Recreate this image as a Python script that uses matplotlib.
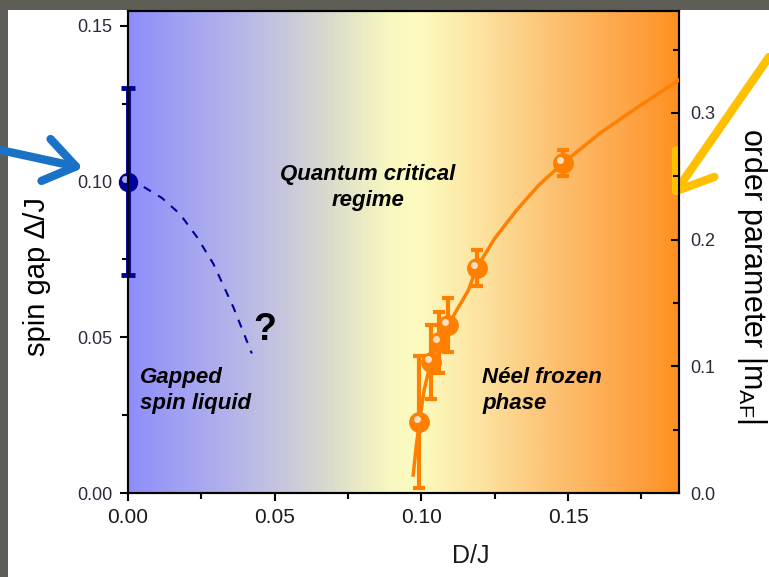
import matplotlib
matplotlib.use("Agg")
import matplotlib.pyplot as plt
import numpy as np
from matplotlib import font_manager
from matplotlib.colors import LinearSegmentedColormap
from matplotlib.patches import Rectangle
from matplotlib.transforms import ScaledTranslation

plt.rcParams['font.family'] = ['Liberation Sans', 'DejaVu Sans']

# spin gap (left axis)
gap_x = [0.0]
gap_y = [0.10]
gap_err = [0.03]

# dashed guide of the gap closing
guide_x = [0.0, 0.0052, 0.0115, 0.0177, 0.0235, 0.0291, 0.0359, 0.0422]
guide_y = [0.100, 0.0984, 0.0948, 0.0896, 0.0822, 0.0736, 0.0597, 0.0448]

# order parameter (right axis)
m_x = [0.0993, 0.1032, 0.1060, 0.1091, 0.1188, 0.1483]
m_y = [0.056, 0.1036, 0.119, 0.1326, 0.1776, 0.2605]
m_err = [0.052, 0.029, 0.024, 0.021, 0.014, 0.010]

# fit line of the order parameter
fit_x = [0.0972, 0.0982, 0.0993, 0.1010, 0.1032, 0.1060, 0.1091, 0.1160,
         0.1188, 0.1250, 0.1325, 0.1400, 0.1483, 0.1609, 0.1740, 0.1878]
fit_y = [0.0142, 0.036, 0.056, 0.082, 0.1034, 0.119, 0.1326, 0.160,
         0.1776, 0.201, 0.2234, 0.243, 0.2605, 0.2841, 0.305, 0.326]

# background colour stops (fraction of the x range)
bg_pos = [0.0, 0.13, 0.27, 0.37, 0.475, 0.53, 0.64, 0.78, 0.93, 1.0]
bg_col = ['#8e8efb', '#a8a8f0', '#c4c4e0', '#dcdccc', '#f8f8c0', '#fdfbbf',
          '#fce3a0', '#fcc070', '#fea040', '#ff9020']

navy = '#00009c'
orange = '#ff8000'

# axis titles are in a narrow face in the original
names = {f.name for f in font_manager.fontManager.ttflist}
if 'Liberation Sans Narrow' in names:
    narrow = ['Liberation Sans Narrow', 'DejaVu Sans']
    ylab_size, rlab_size, xlab_size, xtick_size = 26, 26, 21, 16.5
else:
    narrow = ['Liberation Sans', 'DejaVu Sans']
    ylab_size, rlab_size, xlab_size, xtick_size = 21, 22, 18, 15

fig = plt.figure(figsize=(7.69, 5.77), dpi=100, facecolor='#5e5e56')
panel = Rectangle((8 / 769, 0), 1, 1 - 10 / 577, transform=fig.transFigure,
                  facecolor='white', edgecolor='none', zorder=-10)
fig.patches.append(panel)

ax = fig.add_axes([128 / 769, 84 / 577, 551 / 769, 482 / 577])
ax2 = ax.twinx()

xmax = 0.1878
ax.set_xlim(0, xmax)
ax.set_ylim(0, 0.1548)
ax2.set_ylim(0, 0.3805)

cmap = LinearSegmentedColormap.from_list('bg', list(zip(bg_pos, bg_col)))
grad = np.linspace(0, 1, 400).reshape(1, -1)
ax.imshow(grad, cmap=cmap, aspect='auto', extent=[0, xmax, 0, 0.1548], zorder=0)

# gap
ax.plot(guide_x, guide_y, ls=(0, (4, 4)), color=navy, lw=1.5, zorder=3)
ax.errorbar(gap_x, gap_y, yerr=gap_err, fmt='none', ecolor=navy, elinewidth=3.5,
            capsize=5, capthick=3.5, zorder=4, clip_on=False)
ax.plot(gap_x, gap_y, 'o', color=navy, ms=13, zorder=5, clip_on=False)
hl = ax.transData + ScaledTranslation(-2 / 72, 2 / 72, fig.dpi_scale_trans)
ax.plot(gap_x, gap_y, 'o', color='#b8b8f0', ms=5, mew=0, alpha=0.9,
        transform=hl, zorder=6, clip_on=False)

# order parameter
ax2.plot(fit_x, fit_y, color=orange, lw=2.5, zorder=3)
ax2.errorbar(m_x, m_y, yerr=m_err, fmt='none', ecolor=orange, elinewidth=3,
             capsize=4.5, capthick=3, zorder=4)
ax2.plot(m_x, m_y, 'o', color=orange, ms=14, zorder=5)
hl2 = ax2.transData + ScaledTranslation(-2 / 72, 2 / 72, fig.dpi_scale_trans)
ax2.plot(m_x, m_y, 'o', color='#ffe8d8', ms=5, mew=0, alpha=0.9,
         transform=hl2, zorder=6)

# region labels
tk = dict(fontsize=16, fontweight='bold', fontstyle='italic', color='black')
ax.text(0.0818, 0.098, 'Quantum critical\nregime', ha='center', va='center',
        multialignment='center', linespacing=1.3, **tk)
ax.text(0.0041, 0.033, 'Gapped\nspin liquid', ha='left', va='center',
        linespacing=1.3, **tk)
ax.text(0.1207, 0.033, 'N\u00e9el frozen\nphase', ha='left', va='center',
        linespacing=1.3, **tk)
ax.text(0.0467, 0.0524, '?', ha='center', va='center', fontsize=27,
        fontweight='bold', color='black')

# axes styling
ax.set_xticks([0.0, 0.05, 0.10, 0.15])
ax.set_xticklabels(['0.00', '0.05', '0.10', '0.15'], family=narrow)
ax.set_xticks([0.025, 0.075, 0.125, 0.175], minor=True)
ax.set_yticks([0.0, 0.05, 0.10, 0.15])
ax.set_yticklabels(['0.00', '0.05', '0.10', '0.15'])
ax.set_yticks([0.025, 0.075, 0.125], minor=True)
ax2.set_yticks([0.0, 0.1, 0.2, 0.3])
ax2.set_yticklabels(['0.0', '0.1', '0.2', '0.3'])
ax2.set_yticks([0.05, 0.15, 0.25, 0.35], minor=True)

lab_col = '#2a2a3a'
ax.tick_params(axis='x', which='major', direction='out', length=6, width=1.5,
               labelsize=xtick_size, pad=5, colors='black', labelcolor='#1a1a1a')
ax.tick_params(axis='x', which='minor', direction='out', length=4, width=1.5)
ax.tick_params(axis='y', which='major', direction='out', length=6, width=1.5,
               labelsize=13, pad=5, labelcolor=lab_col)
ax.tick_params(axis='y', which='minor', direction='out', length=4, width=1.5)
ax2.tick_params(axis='y', which='major', direction='in', length=6, width=1.5,
                labelsize=13, pad=8, labelcolor=lab_col)
ax2.tick_params(axis='y', which='minor', direction='in', length=4, width=1.5)

for a in (ax, ax2):
    for s in a.spines.values():
        s.set_linewidth(1.5)
        s.set_color('black')

ax.set_xlabel('D/J', fontsize=xlab_size, family=narrow, va='center', color='#1a1a1a')
ax.xaxis.set_label_coords(0.6225, -0.131)
ax.set_ylabel('spin gap \u2206/J', fontsize=ylab_size, family=narrow, va='center')
ax.yaxis.set_label_coords(-0.165, 0.45)
ax2.set_ylabel('order parameter |m$_{\\mathregular{AF}}$|', fontsize=rlab_size,
               family=narrow, rotation=-90, va='center', ha='center')
ax2.yaxis.set_label_coords(1.1325, 0.45)

# pointer arrows
ax.annotate('', xy=(83, 409), xycoords='figure pixels', xytext=(0, 427),
            textcoords='figure pixels', annotation_clip=False,
            arrowprops=dict(arrowstyle='->, head_length=1.0, head_width=0.7',
                            mutation_scale=22, lw=6, color='#1a72c6',
                            shrinkA=0, shrinkB=0, capstyle='round',
                            joinstyle='round'))
ax.annotate('', xy=(672, 380), xycoords='figure pixels', xytext=(769, 520),
            textcoords='figure pixels', annotation_clip=False,
            arrowprops=dict(arrowstyle='->, head_length=1.0, head_width=0.7',
                            mutation_scale=24, lw=6, color='#ffc000',
                            shrinkA=0, shrinkB=0, capstyle='round',
                            joinstyle='round'))

fig.savefig('out.png', dpi=100, facecolor=fig.get_facecolor())
